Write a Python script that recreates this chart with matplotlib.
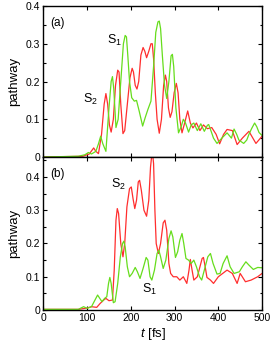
import matplotlib
matplotlib.use("Agg")
import matplotlib.pyplot as plt
from matplotlib.ticker import MultipleLocator

plt.rcParams['font.family'] = ['Liberation Sans', 'DejaVu Sans']
plt.rcParams['mathtext.fontset'] = 'custom'
plt.rcParams['mathtext.rm'] = 'Liberation Sans'
plt.rcParams['mathtext.it'] = 'Liberation Sans:italic'

# ---- data: panel (a) ----
ta_s1 = [0, 80, 95, 103, 110, 120, 126, 131, 136, 143, 150, 155, 158, 161, 166, 171, 177,
         183, 187, 190, 193, 197, 202, 208, 213, 219, 227, 233, 239, 246, 252, 257, 262,
         265, 268, 272, 277, 282, 287, 292, 295, 298, 303, 309, 315, 320, 325, 332, 338,
         344, 352, 360, 368, 375, 378, 383, 389, 397, 408, 420, 430, 436, 442, 447, 458,
         465, 470, 476, 483, 488, 493, 500]
va_s1 = [0, 0.002, 0.006, 0.012, 0.008, 0.015, 0.035, 0.055, 0.035, 0.015, 0.13, 0.2,
         0.213, 0.18, 0.078, 0.1, 0.2, 0.3, 0.322, 0.318, 0.27, 0.2, 0.157, 0.148, 0.15,
         0.122, 0.082, 0.105, 0.126, 0.148, 0.24, 0.33, 0.358, 0.36, 0.34, 0.27, 0.19, 0.155,
         0.2, 0.268, 0.272, 0.24, 0.13, 0.064, 0.08, 0.1, 0.09, 0.066, 0.085, 0.09, 0.07,
         0.088, 0.068, 0.084, 0.086, 0.07, 0.05, 0.036, 0.05, 0.064, 0.05, 0.074, 0.06,
         0.045, 0.036, 0.045, 0.06, 0.075, 0.09, 0.08, 0.065, 0.057]
ta_s2 = [0, 90, 105, 115, 120, 126, 133, 139, 143, 147, 151, 155, 160, 165, 170, 173, 177,
         182, 186, 192, 198, 203, 206, 210, 214, 218, 223, 228, 232, 236, 241, 246, 249,
         252, 256, 260, 265, 270, 275, 279, 282, 286, 290, 294, 299, 304, 308, 312, 317,
         323, 330, 336, 342, 350, 358, 366, 375, 385, 395, 403, 412, 420, 432, 443, 455,
         470, 486, 500]
va_s2 = [0, 0.002, 0.008, 0.024, 0.015, 0.009, 0.06, 0.14, 0.168, 0.14, 0.085, 0.066, 0.1,
         0.19, 0.23, 0.225, 0.14, 0.062, 0.07, 0.14, 0.21, 0.235, 0.225, 0.19, 0.18, 0.2,
         0.27, 0.29, 0.28, 0.263, 0.28, 0.3, 0.3, 0.26, 0.17, 0.1, 0.063, 0.1, 0.19, 0.217,
         0.2, 0.13, 0.105, 0.12, 0.17, 0.195, 0.17, 0.1, 0.064, 0.09, 0.122, 0.09, 0.077,
         0.09, 0.07, 0.085, 0.075, 0.078, 0.06, 0.035, 0.06, 0.073, 0.07, 0.033, 0.05,
         0.068, 0.036, 0.055]

# ---- data: panel (b) ----
tb_s1 = [0, 80, 92, 100, 110, 118, 124, 129, 134, 140, 145, 149, 152, 155, 160, 164, 170,
         176, 181, 184, 187, 192, 197, 203, 210, 215, 221, 228, 235, 239, 244, 248, 254,
         260, 264, 268, 274, 280, 287, 292, 296, 302, 307, 312, 317, 321, 326, 332, 338,
         344, 350, 357, 362, 368, 376, 382, 388, 397, 404, 411, 420, 427, 436, 448, 455,
         463, 470, 480, 490, 500]
vb_s1 = [0.002, 0.002, 0.01, 0.005, 0.01, 0.03, 0.045, 0.035, 0.025, 0.035, 0.04, 0.08,
         0.098, 0.08, 0.022, 0.025, 0.08, 0.16, 0.2, 0.207, 0.19, 0.13, 0.1, 0.11, 0.128,
         0.115, 0.095, 0.125, 0.158, 0.15, 0.1, 0.09, 0.12, 0.17, 0.18, 0.16, 0.125, 0.15,
         0.215, 0.238, 0.22, 0.158, 0.175, 0.21, 0.23, 0.2, 0.155, 0.15, 0.14, 0.15, 0.13,
         0.1, 0.09, 0.12, 0.16, 0.17, 0.14, 0.108, 0.11, 0.14, 0.163, 0.13, 0.11, 0.115,
         0.13, 0.145, 0.135, 0.122, 0.128, 0.127]
tb_s2 = [0, 80, 100, 110, 122, 130, 138, 143, 150, 158, 162, 166, 169, 172, 177, 182, 186,
         191, 197, 201, 205, 209, 213, 217, 220, 224, 230, 236, 241, 245, 249, 252, 255,
         258, 263, 268, 274, 278, 282, 287, 291, 297, 305, 312, 320, 328, 333, 336, 340,
         344, 352, 358, 363, 366, 370, 374, 382, 389, 400, 410, 420, 432, 443, 450, 462,
         475, 490, 500]
vb_s2 = [0.002, 0.002, 0.006, 0.01, 0.008, 0.02, 0.03, 0.035, 0.028, 0.03, 0.12, 0.27,
         0.305, 0.29, 0.2, 0.16, 0.2, 0.31, 0.365, 0.37, 0.335, 0.305, 0.33, 0.385, 0.39,
         0.36, 0.3, 0.282, 0.33, 0.43, 0.48, 0.44, 0.3, 0.2, 0.17, 0.2, 0.262, 0.27, 0.24,
         0.14, 0.11, 0.1, 0.1, 0.09, 0.1, 0.08, 0.12, 0.152, 0.12, 0.09, 0.1, 0.13, 0.155,
         0.158, 0.13, 0.098, 0.09, 0.08, 0.1, 0.11, 0.12, 0.11, 0.08, 0.11, 0.085, 0.09,
         0.1, 0.11]

yticks = [0, 0.1, 0.2, 0.3, 0.4]
yticklabels = ['0', '0.1', '0.2', '0.3', '0.4']
xticks = [0, 100, 200, 300, 400, 500]

RED = '#ff2e2e'
GREEN = '#66dd1c'

fig = plt.figure(figsize=(2.71, 3.46), dpi=100)
ax1 = fig.add_axes([0.16, 0.5462, 0.807, 0.4365])
ax2 = fig.add_axes([0.16, 0.104, 0.807, 0.4422])

for ax in (ax1, ax2):
    ax.set_xlim(0, 500)
    ax.set_xticks(xticks)
    ax.set_yticks(yticks)
    ax.set_yticklabels(yticklabels)
    ax.yaxis.set_minor_locator(MultipleLocator(0.05))
    ax.tick_params(which='both', direction='in', top=True, right=True, labelsize=7.5,
                   width=0.8, pad=2.5)
    ax.tick_params(which='major', length=3.2)
    ax.tick_params(which='minor', length=1.8)
    for s in ax.spines.values():
        s.set_linewidth(1.0)
    ax.set_ylabel('pathway', fontsize=9.5, labelpad=4)

ax1.set_ylim(0, 0.4)
ax2.set_ylim(0, 0.46)
ax1.tick_params(labelbottom=False)

ax1.plot(ta_s2, va_s2, color=RED, lw=0.9)
ax1.plot(ta_s1, va_s1, color=GREEN, lw=0.9)
ax2.plot(tb_s2, vb_s2, color=RED, lw=0.9)
ax2.plot(tb_s1, vb_s1, color=GREEN, lw=0.9)

ax1.text(15, 0.355, '(a)', fontsize=8.5, va='center', ha='left')
ax2.text(15, 0.41, '(b)', fontsize=8.5, va='center', ha='left')
ax1.text(146, 0.30, r'$\mathrm{S}_1$', fontsize=9, va='baseline', ha='left')
ax1.text(91, 0.144, r'$\mathrm{S}_2$', fontsize=9, va='baseline', ha='left')
ax2.text(155, 0.366, r'$\mathrm{S}_2$', fontsize=9, va='baseline', ha='left')
ax2.text(226, 0.05, r'$\mathrm{S}_1$', fontsize=9, va='baseline', ha='left')

ax2.set_xlabel(r'$\mathit{t}$ [fs]', fontsize=9.5, labelpad=2)

fig.savefig('out.png', dpi=100)
